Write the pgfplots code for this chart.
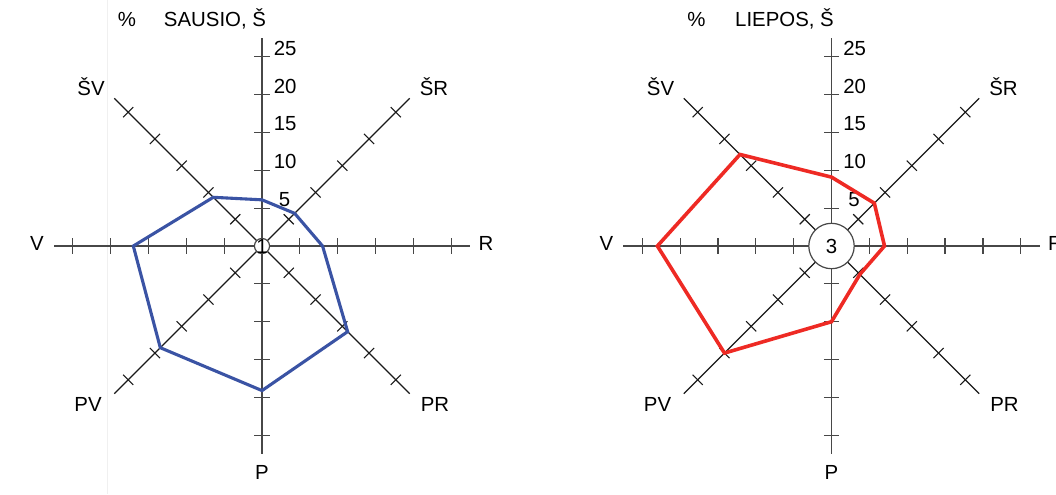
\documentclass[border=0pt]{standalone}
\usepackage{fontspec}
\setmainfont{Liberation Sans}
\usepackage{pgfplots}
\pgfplotsset{compat=1.18}

\definecolor{janblue}{HTML}{3A53A4}
\definecolor{julred}{HTML}{EE2A24}

% wind rose scaffold: #1,#2 centre (pt), #3 calm value (circle radius), #4 title
\newcommand\rose[4]{%
\begin{scope}[shift={(#1pt,#2pt)}, x=3.785pt, y=3.785pt]
  \foreach \a in {0,90,180,270}{
    \draw[axl] (0,0) -- (\a:27.5);
    \foreach \r in {5,10,...,25} \draw[axl, rotate=\a] (\r,-1) -- (\r,1);
  }
  \foreach \a in {45,135,225,315}{
    \draw[dgl] (0,0) -- (\a:27.6);
    \foreach \r in {5,10,...,25} \draw[dgl, rotate=\a] (\r,-0.95) -- (\r,0.95);
  }
  \draw[axl, fill=white] (0,0) circle (#3);
  \node[inner sep=0] at (0,0) {#3};
  \node[anchor=base west, inner sep=0] at (8.2pt, 19.675pt) {5};
  \foreach \r in {10,15,20,25}
    \node[anchor=base west, inner sep=0] at (5.75pt, {\r*3.785pt+0.75pt}) {\r};
  \node[anchor=base, inner sep=0] at (-67.5pt, 110pt) {\%};
  \node[anchor=base, inner sep=0] at (-23.5pt, 110pt) {#4, Š};
  \node[anchor=base, inner sep=0] at (-85.5pt, 75.5pt) {ŠV};
  \node[anchor=base, inner sep=0] at (86pt, 75.5pt) {ŠR};
  \node[anchor=base, inner sep=0] at (-112.5pt, -2.35pt) {V};
  \node[anchor=base, inner sep=0] at (112pt, -2.35pt) {R};
  \node[anchor=base, inner sep=0] at (-87pt, -82.5pt) {PV};
  \node[anchor=base, inner sep=0] at (86.5pt, -82.5pt) {PR};
  \node[anchor=base, inner sep=0] at (0pt, -116.5pt) {P};
\end{scope}}

\begin{document}
\begin{tikzpicture}[font=\fontsize{10.2}{12.2}\selectfont,
  axl/.style={line width=0.6pt, draw=black!72},
  dgl/.style={line width=0.55pt, draw=black!90}]
\useasboundingbox (0,0) rectangle (528pt,-247pt);
\clip (0,0) rectangle (528pt,-247pt);
\draw[black!6, line width=0.6pt] (53.6pt,0) -- (53.6pt,-247pt);

\rose{131}{-123}{1}{SAUSIO}
\rose{415.75}{-123}{3}{LIEPOS}

% January
\begin{axis}[at={(131pt,-123pt)}, anchor=origin, x=3.785pt, y=3.785pt,
  xmin=-28, xmax=28, ymin=-28, ymax=28, hide axis, clip=false]
\addplot[color=janblue, line width=1.55pt, line join=miter, no markers, data cs=polar]
  coordinates {(90,6.1) (45,6.1) (0,8.0) (-45,16.0) (-90,19.1) (-135,19.0) (180,17.0) (135,9.1)} -- cycle;
\end{axis}

% July
\begin{axis}[at={(415.75pt,-123pt)}, anchor=origin, x=3.785pt, y=3.785pt,
  xmin=-28, xmax=28, ymin=-28, ymax=28, hide axis, clip=false]
\addplot[color=julred, line width=1.8pt, line join=miter, no markers, data cs=polar]
  coordinates {(90,9.1) (45,8.0) (0,7.0) (-45,5.3) (-90,10.0) (-135,20.0) (180,23.0) (135,17.1)} -- cycle;
\end{axis}
\end{tikzpicture}
\end{document}
